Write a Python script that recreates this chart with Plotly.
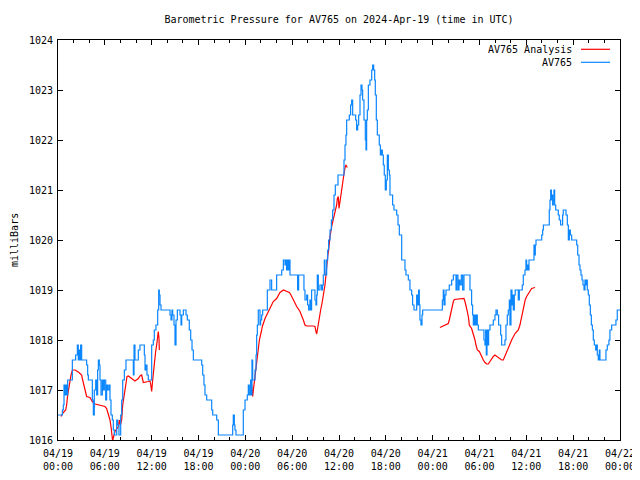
import datetime as dt
import plotly.graph_objects as go

# ---------------- data ----------------
title_text = "Barometric Pressure for AV765 on 2024-Apr-19 (time in UTC)"
y_label = "milliBars"
series_names = ["AV765 Analysis", "AV765"]
start_time = "2024-04-19 00:00"
end_time = "2024-04-22 00:00"
y_ticks = [1016, 1017, 1018, 1019, 1020, 1021, 1022, 1023, 1024]

# AV765 observations: hours after 2024-04-19 00:00 UTC, pressure (mb)
blue_hours = [
    0, 0.56, 0.68, 0.77, 0.9, 0.98, 1.11, 1.24, 1.84, 2.26,
    2.48, 2.6, 2.69, 2.82, 2.9, 3.03, 3.67, 3.8, 3.89, 4.4,
    4.53, 4.65, 4.83, 4.96, 5.08, 5.17, 5.29, 5.38, 5.51, 5.68,
    5.81, 5.94, 6.11, 6.23, 6.36, 6.53, 6.66, 6.79, 6.96, 7.09,
    7.22, 7.52, 7.65, 7.81, 8.03, 8.16, 8.29, 8.5, 8.71, 9.65,
    9.74, 9.86, 10.29, 10.5, 11.06, 11.15, 11.27, 11.4, 11.57, 12.0,
    12.21, 12.34, 12.55, 12.77, 12.9, 12.98, 13.07, 13.2,
    14.35, 14.48, 14.6, 14.69, 14.86, 14.99, 15.12, 15.29, 15.63, 15.76,
    15.85, 16.06, 16.4, 16.57, 16.82, 17.0, 17.17, 17.34, 18.41, 18.54,
    18.7, 18.83, 19.05, 19.69, 19.82, 20.33, 20.54, 22.38, 22.46, 22.59,
    22.67, 22.8, 23.74, 23.96,
    24.25, 24.38, 24.51, 24.68, 24.77, 24.85, 24.94, 25.24, 25.37, 25.45,
    25.54, 25.66, 25.88, 25.96, 26.09, 26.22, 26.82, 27.16, 27.37, 28.01,
    28.66, 28.87, 29.08, 29.21, 29.29, 29.38, 29.51, 29.64, 29.72, 30.7,
    30.83, 31.51, 31.64, 31.86, 31.98, 32.11, 32.28, 32.41, 32.49, 32.92,
    33.05, 33.14, 33.22, 33.35, 33.56, 33.78, 33.9, 33.99, 34.12, 34.2,
    34.42, 34.55, 34.67, 34.85, 35.02, 35.19, 35.36, 35.53, 35.87,
    36.64, 36.77, 36.89, 36.98, 37.32, 37.49, 37.62, 37.75, 38.13, 38.26,
    38.39, 38.52, 38.69, 38.82, 38.94, 39.03, 39.2, 39.37, 39.46, 39.54,
    39.63, 39.76, 39.97, 40.19, 40.31, 40.44, 40.57, 40.65, 40.78, 40.91,
    41.16, 41.3, 41.42, 41.55, 41.68, 41.8, 41.93, 42.06, 42.19, 42.32,
    42.45, 42.53, 42.87, 43.04, 43.39, 43.56, 43.73, 44.03, 44.45, 44.58,
    44.88, 45.09, 45.31, 45.43, 45.61, 45.95, 46.08, 46.2, 46.29, 46.37,
    46.5, 46.63, 46.72,
    49.24, 49.36, 49.45, 49.58, 49.71, 50.13, 50.43, 50.65, 50.99, 51.07,
    51.24, 51.37, 51.5, 51.67, 51.84, 52.01, 52.78, 52.99, 53.12, 53.21,
    53.34, 53.46, 53.59, 53.72, 53.85, 54.57, 54.7, 54.79, 54.87, 54.96,
    55.05, 55.17, 55.34, 55.77, 55.98, 56.11, 56.28, 56.45, 56.71, 56.84,
    57.26, 57.39, 57.56, 57.69, 57.82, 57.9, 58.03, 58.16, 58.25, 58.33,
    58.46, 58.58, 58.97, 59.1, 59.48, 59.61, 59.83, 59.95, 60.04, 60.17,
    60.25, 60.34, 60.98, 61.07, 61.15, 61.24, 61.97, 62.09, 62.18, 62.94,
    63.03, 63.12, 63.21, 63.29, 63.37, 63.46, 63.54, 63.63, 63.76, 64.09,
    64.22, 64.39, 64.65, 64.73, 65.08, 65.25, 65.38, 65.51, 65.64, 65.81,
    66.45, 66.58, 66.75, 66.87, 67.0, 67.13, 67.26, 67.39, 67.51, 67.64,
    67.73, 67.81, 67.94, 68.07, 68.2, 68.33, 68.46, 68.58, 68.71, 68.88,
    69.01, 69.09, 69.22, 69.35, 69.43, 70.2, 70.37, 70.58, 70.71, 70.93,
    71.48, 71.65, 72.0,
]
blue_values = [
    1016.5, 1016.6, 1016.7, 1017.1, 1016.9, 1017.1, 1016.9, 1017.2, 1017.6, 1017.7,
    1017.9, 1017.6, 1017.8, 1017.6, 1017.9, 1017.6, 1017.5, 1017.3, 1017.2, 1016.8,
    1016.5, 1017.0, 1017.2, 1016.9, 1017.4, 1017.6, 1017.5, 1017.2, 1016.9, 1017.2,
    1017.0, 1017.2, 1016.8, 1017.1, 1017.0, 1017.1, 1016.8, 1016.5, 1016.4, 1016.2,
    1016.1, 1016.4, 1016.3, 1016.1, 1016.5, 1016.8, 1017.2, 1017.4, 1017.6, 1017.3,
    1017.9, 1017.6, 1017.8, 1017.9, 1017.7, 1017.4, 1017.5, 1017.3, 1017.2, 1017.9,
    1018.0, 1018.2, 1018.3, 1018.6, 1019.0, 1018.9, 1018.7, 1018.6,
    1018.5, 1018.4, 1018.6, 1018.5, 1018.3, 1017.9, 1018.4, 1018.6, 1018.5, 1018.3,
    1018.5, 1018.6, 1018.5, 1018.4, 1018.2, 1018.0, 1017.8, 1017.6, 1017.5, 1017.3,
    1017.1, 1016.9, 1016.8, 1016.6, 1016.5, 1016.4, 1016.1, 1016.3, 1016.5, 1016.3,
    1016.2, 1016.1, 1016.6, 1016.8,
    1016.9, 1017.1, 1016.9, 1017.2, 1016.9, 1017.6, 1017.2, 1017.4, 1017.7, 1018.1,
    1018.3, 1018.6, 1018.3, 1018.4, 1018.5, 1018.6, 1019.0, 1019.2, 1019.0, 1019.3,
    1019.4, 1019.6, 1019.5, 1019.6, 1019.4, 1019.6, 1019.4, 1019.6, 1019.3, 1019.0,
    1019.3, 1019.0, 1018.8, 1018.9, 1018.7, 1018.6, 1018.8, 1018.6, 1019.0, 1018.8,
    1018.7, 1018.9, 1019.3, 1019.0, 1019.1, 1019.0, 1019.1, 1019.3, 1019.6, 1019.3,
    1019.6, 1019.8, 1020.0, 1020.2, 1020.4, 1020.6, 1020.9, 1021.1, 1021.3,
    1021.6, 1021.9, 1022.1, 1022.4, 1022.5, 1022.7, 1022.8, 1022.5, 1022.4, 1022.2,
    1022.3, 1022.5, 1022.9, 1023.1, 1023.0, 1022.8, 1022.4, 1022.0, 1021.8, 1022.4,
    1022.6, 1023.1, 1023.2, 1023.4, 1023.5, 1023.4, 1023.2, 1022.9, 1022.4, 1022.1,
    1021.9, 1021.7, 1021.8, 1021.7, 1021.5, 1021.3, 1021.0, 1021.2, 1021.7, 1021.4,
    1021.3, 1020.9, 1020.7, 1020.6, 1020.5, 1020.3, 1020.1, 1019.6, 1019.4, 1019.3,
    1019.2, 1019.0, 1018.9, 1018.7, 1018.6, 1018.9, 1018.7, 1019.0, 1018.7, 1018.4,
    1018.3, 1018.5, 1018.6,
    1018.8, 1019.0, 1018.7, 1018.9, 1019.0, 1019.1, 1019.2, 1019.3, 1019.0, 1019.3,
    1019.0, 1019.2, 1019.1, 1019.3, 1019.0, 1019.3, 1019.0, 1018.7, 1018.5, 1018.3,
    1018.5, 1018.3, 1018.5, 1018.3, 1018.2, 1018.0, 1017.9, 1018.2, 1017.7, 1018.2,
    1017.9, 1018.2, 1018.3, 1018.4, 1018.5, 1018.6, 1018.5, 1018.3, 1018.1, 1017.9,
    1018.0, 1018.3, 1018.5, 1018.6, 1018.8, 1018.3, 1019.0, 1018.7, 1018.9, 1018.6,
    1018.9, 1019.0, 1018.8, 1019.0, 1019.1, 1019.3, 1019.4, 1019.6, 1019.4, 1019.5,
    1019.4, 1019.6, 1019.9, 1019.7, 1019.9, 1020.0, 1020.1, 1020.2, 1020.3, 1020.6,
    1020.8, 1021.0, 1020.8, 1020.9, 1020.7, 1020.8, 1021.0, 1020.7, 1020.6, 1020.5,
    1020.4, 1020.3, 1020.5, 1020.6, 1020.5, 1020.3, 1020.0, 1020.2, 1020.1, 1020.0,
    1019.9, 1019.7, 1019.5, 1019.4, 1019.3, 1019.2, 1019.1, 1019.0, 1019.2, 1019.1,
    1019.2, 1019.0, 1018.9, 1018.7, 1018.5, 1018.3, 1018.2, 1018.0, 1017.9, 1017.8,
    1017.9, 1017.7, 1017.6, 1017.8, 1017.6, 1017.8, 1017.9, 1018.0, 1018.2, 1018.3,
    1018.4, 1018.6, 1018.6,
]

# AV765 Analysis: three runs, separated by None
red_hours = [
    0.38, 0.68, 0.98, 1.11, 1.24, 1.41, 1.54, 1.67, 1.84, 2.18,
    2.6, 3.03, 3.16, 3.29, 3.46, 3.67, 4.1, 4.4, 4.74, 5.17,
    5.81, 6.02, 6.23, 6.36, 6.53, 6.66, 6.79, 6.88, 7.0, 7.13,
    7.3, 7.73, 7.86, 7.99, 8.16, 8.29, 8.41, 8.58, 8.71, 8.84,
    9.01, 9.44, 9.86, 10.29, 10.5, 10.72, 10.93, 11.57, 11.79, 11.91,
    12.0, 12.13, 12.26, 12.38, 12.51, 12.64, 12.77, 12.85, 12.94, 12.98,
    None,
    24.73, 24.86, 24.94, 25.03, 25.15, 25.28, 25.45, 25.71, 25.8, 26.05,
    26.18, 26.52, 26.73, 27.16, 27.58, 28.01, 28.44, 28.87, 29.29, 29.64,
    29.85, 30.15, 30.58, 31.0, 31.22, 31.43, 31.64, 31.86, 32.71, 32.92,
    33.05, 33.14, 33.26, 33.35, 33.48, 33.65, 33.82, 33.99, 34.2, 34.33,
    34.42, 34.55, 34.67, 34.85, 35.1, 35.4, 35.53, 35.7, 35.79, 35.91,
    36.0, 36.13, 36.25, 36.38, 36.55, 36.68, 36.81, 36.89, 37.06,
    None,
    48.93, 49.58, 50.0, 50.13, 50.26, 50.39, 50.52, 50.65, 50.77, 52.01,
    52.14, 52.27, 52.44, 52.61, 52.69, 52.99, 53.12, 53.29, 53.42, 53.55,
    53.72, 53.98, 54.15, 54.32, 54.49, 54.7, 54.92, 55.13, 55.43, 55.77,
    55.98, 56.41, 56.84, 57.05, 57.31, 57.48, 57.69, 57.9, 58.12, 58.55,
    58.97, 59.18, 59.31, 59.44, 59.61, 59.74, 59.87, 60.04, 60.47, 60.68,
    61.11,
]
red_values = [
    1016.47, 1016.55, 1016.6, 1016.7, 1016.9, 1017.07, 1017.2, 1017.3, 1017.4, 1017.4,
    1017.36, 1017.3, 1017.2, 1017.1, 1017.0, 1016.87, 1016.85, 1016.77, 1016.72, 1016.7,
    1016.68, 1016.67, 1016.63, 1016.57, 1016.5, 1016.4, 1016.27, 1016.13, 1015.98, 1016.07,
    1016.17, 1016.27, 1016.4, 1016.3, 1016.4, 1016.7, 1016.8, 1017.0, 1017.13, 1017.27,
    1017.28, 1017.23, 1017.18, 1017.23, 1017.28, 1017.3, 1017.15, 1017.17, 1017.18, 1017.08,
    1016.97, 1017.2, 1017.43, 1017.6, 1017.77, 1017.9, 1018.07, 1018.17, 1018.03, 1017.8,
    None,
    1017.2, 1016.9, 1016.87, 1017.0, 1017.17, 1017.33, 1017.6, 1017.87, 1018.0, 1018.17,
    1018.27, 1018.43, 1018.5, 1018.63, 1018.77, 1018.83, 1018.95, 1019.0, 1018.97, 1018.95,
    1018.9, 1018.8, 1018.67, 1018.57, 1018.5, 1018.4, 1018.3, 1018.28, 1018.28, 1018.27,
    1018.17, 1018.12, 1018.23, 1018.33, 1018.47, 1018.6, 1018.73, 1018.87, 1019.1, 1019.3,
    1019.5, 1019.67, 1019.8, 1020.07, 1020.3, 1020.5, 1020.57, 1020.7, 1020.83, 1020.87,
    1020.63, 1020.77, 1020.97, 1021.1, 1021.23, 1021.37, 1021.47, 1021.5, 1021.45,
    None,
    1018.25, 1018.3, 1018.33, 1018.4, 1018.5, 1018.6, 1018.7, 1018.77, 1018.81, 1018.83,
    1018.77, 1018.7, 1018.57, 1018.43, 1018.3, 1018.23, 1018.17, 1018.1, 1018.0, 1017.9,
    1017.8, 1017.77, 1017.7, 1017.63, 1017.6, 1017.55, 1017.52, 1017.52, 1017.6, 1017.67,
    1017.7, 1017.65, 1017.6, 1017.6, 1017.7, 1017.77, 1017.83, 1017.9, 1018.0, 1018.13,
    1018.2, 1018.3, 1018.4, 1018.53, 1018.63, 1018.73, 1018.81, 1018.87, 1018.97, 1019.03,
    1019.05,
]

assert len(blue_hours) == len(blue_values), (len(blue_hours), len(blue_values))
assert len(red_hours) == len(red_values), (len(red_hours), len(red_values))

# ---------------- build ----------------
base = dt.datetime(2024, 4, 19)


def to_time(hours):
    return [None if h is None else base + dt.timedelta(hours=h) for h in hours]


RED = "#ff0000"
BLUE = "#0a86ff"
FONT = "DejaVu Sans Mono"

# the page body adds an 8 px offset, so the figure is 8 px smaller on each
# axis and its top/left margins are reduced by the same amount
PAGE_OFFSET = 8
FIG_W, FIG_H = 640 - PAGE_OFFSET, 480 - PAGE_OFFSET

fig = go.Figure()
fig.add_trace(go.Scatter(
    x=to_time(red_hours), y=red_values, mode="lines", name=series_names[0],
    line=dict(color=RED, width=1.2), connectgaps=False,
))
fig.add_trace(go.Scatter(
    x=to_time(blue_hours), y=blue_values, mode="lines", name=series_names[1],
    line=dict(color=BLUE, width=1.2, shape="hv"),
))

fig.update_layout(
    width=FIG_W, height=FIG_H,
    margin=dict(l=58 - PAGE_OFFSET, r=20, t=40 - PAGE_OFFSET, b=40, autoexpand=False),
    paper_bgcolor="white", plot_bgcolor="white",
    showlegend=False,
    font=dict(family=FONT, size=10, color="black"),
    title=dict(text=title_text, x=0.5, xref="paper", xanchor="center",
               y=1 - (19 - PAGE_OFFSET) / FIG_H, yref="container", yanchor="middle",
               font=dict(family=FONT, size=10, color="black")),
)

fig.update_xaxes(
    type="date", range=[start_time, end_time], automargin=False,
    tickmode="linear", tick0=start_time, dtick=6 * 3600 * 1000,
    tickformat="%m/%d<br>%H:%M",
    ticks="inside", ticklen=5, tickcolor="black", tickwidth=1,
    ticklabelstandoff=4,
    minor=dict(dtick=2 * 3600 * 1000, ticks="inside", ticklen=3,
               tickcolor="black", tickwidth=1, showgrid=False),
    showline=True, linecolor="black", linewidth=1, mirror="allticks",
    showgrid=False, zeroline=False,
    tickfont=dict(family=FONT, size=10, color="black"),
)
fig.update_yaxes(
    range=[y_ticks[0], y_ticks[-1]], automargin=False,
    tickmode="array", tickvals=y_ticks,
    ticktext=[str(v) for v in y_ticks],
    ticks="inside", ticklen=5, tickcolor="black", tickwidth=1,
    ticklabelstandoff=2,
    showline=True, linecolor="black", linewidth=1, mirror="allticks",
    showgrid=False, zeroline=False,
    tickfont=dict(family=FONT, size=10, color="black"),
)

# y-axis label (kept just inside the figure's left edge)
fig.add_annotation(text=y_label, textangle=-90, xref="paper", yref="paper",
                   x=-44 / 562, y=0.5, xanchor="center", yanchor="middle",
                   showarrow=False, font=dict(family=FONT, size=10, color="black"))

# gnuplot-style key: text on the left, line sample on the right
for i, (name, color) in enumerate(zip(series_names, [RED, BLUE])):
    yk = 1 - (9.3 + 13 * i) / 400
    fig.add_annotation(text=name, xref="paper", yref="paper", x=0.918, y=yk,
                       xanchor="right", yanchor="middle", showarrow=False,
                       font=dict(family=FONT, size=10, color="black"))
    fig.add_shape(type="line", xref="paper", yref="paper",
                  x0=0.9306, x1=0.9822, y0=yk, y1=yk,
                  line=dict(color=color, width=1.2))

fig.write_html("out.html")
